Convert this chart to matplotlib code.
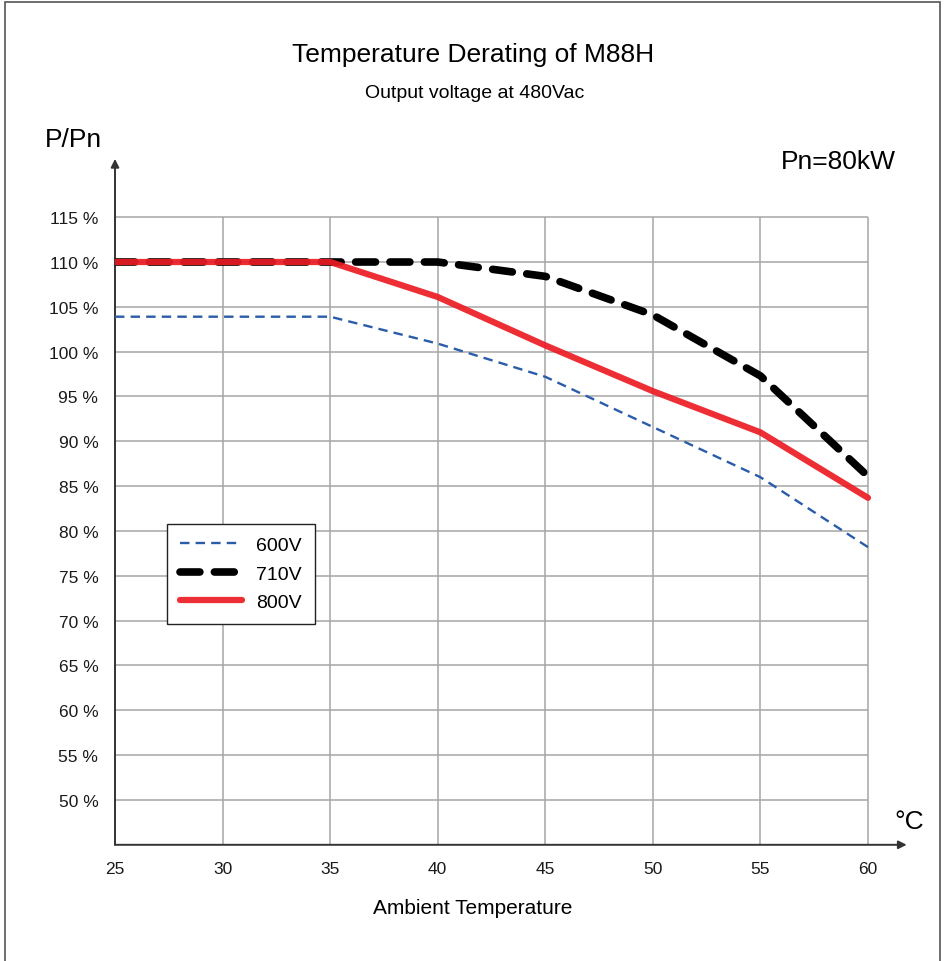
import matplotlib
matplotlib.use("Agg")
import matplotlib.pyplot as plt
from matplotlib.patches import Rectangle

plt.rcParams['font.family'] = ['Liberation Sans', 'DejaVu Sans']

temps = [25, 30, 35, 40, 45, 50, 55, 60]
p600 = [103.9, 103.9, 103.9, 100.9, 97.2, 91.6, 86.0, 78.2]
p710 = [110.0, 110.0, 110.0, 110.0, 108.4, 104.1, 97.3, 86.1]
p800 = [110.0, 110.0, 110.0, 106.1, 100.7, 95.6, 91.0, 83.7]
series_labels = ['600V', '710V', '800V']
xticks = [25, 30, 35, 40, 45, 50, 55, 60]
yticks = [50, 55, 60, 65, 70, 75, 80, 85, 90, 95, 100, 105, 110, 115]
ytick_labels = [f"{v} %" for v in yticks]

W, H = 945, 962
fig = plt.figure(figsize=(W / 100, H / 100), dpi=100)

ax = fig.add_axes([115 / W, 1 - 845.8 / H, (906.7 - 115) / W, (845.8 - 159.9) / H])
ax.set_xlim(25, 61.8)
ax.set_ylim(45, 121.5)
for s in ax.spines.values():
    s.set_visible(False)

grid_c = '#a6a6a6'
ax.hlines(yticks, 25, 60, color=grid_c, lw=1.1, zorder=1)
ax.vlines(xticks[1:], 45, 115, color=grid_c, lw=1.1, zorder=1)

# axes with arrows
ax.annotate('', xy=(25, 121.5), xytext=(25, 45),
            arrowprops=dict(arrowstyle='-|>', color='#333333', lw=1.4,
                            mutation_scale=12, shrinkA=0, shrinkB=0), annotation_clip=False)
ax.annotate('', xy=(61.8, 45), xytext=(25, 45),
            arrowprops=dict(arrowstyle='-|>', color='#333333', lw=1.4,
                            mutation_scale=12, shrinkA=0, shrinkB=0), annotation_clip=False)

l1, = ax.plot(temps, p600, color='#2a5caa', lw=1.7, ls=(0, (4, 2.6)), label=series_labels[0], zorder=3)
l2, = ax.plot(temps, p710, color='black', lw=5.5, ls=(0, (2.6, 1.9)),
              dash_capstyle='round', label=series_labels[1], zorder=4)
l3, = ax.plot(temps, p800, color='#ec1c24', lw=4.5, alpha=0.92,
              solid_capstyle='round', label=series_labels[2], zorder=5)

ax.set_xticks(xticks)
ax.set_xticklabels([str(t) for t in xticks], fontsize=12.5)
ax.set_yticks(yticks)
ax.set_yticklabels(ytick_labels, fontsize=12.5)
ax.tick_params(axis='both', length=0, colors='#1a1a1a')
ax.tick_params(axis='y', pad=12)
ax.tick_params(axis='x', pad=12)

leg = ax.legend(handles=[l1, l2, l3], loc='upper left',
                bbox_to_anchor=((167 - 115) / 791.7, (845.8 - 525) / 685.9),
                fontsize=14, frameon=True, fancybox=False, edgecolor='#222222',
                framealpha=1, handlelength=3.2, handletextpad=0.75,
                borderpad=0.65, labelspacing=0.55, borderaxespad=0)
leg.get_frame().set_linewidth(1.0)

fig.text(473 / W, 1 - 55 / H, 'Temperature Derating of M88H', ha='center', va='center', fontsize=19)
fig.text(475 / W, 1 - 93 / H, 'Output voltage at 480Vac', ha='center', va='center', fontsize=14)
fig.text(73 / W, 1 - 140 / H, 'P/Pn', ha='center', va='center', fontsize=19)
fig.text(838 / W, 1 - 162 / H, 'Pn=80kW', ha='center', va='center', fontsize=19)
fig.text(909 / W, 1 - 822 / H, '°C', ha='center', va='center', fontsize=19)
fig.text(473 / W, 1 - 909 / H, 'Ambient Temperature', ha='center', va='center', fontsize=15)

fig.patches.append(Rectangle((5 / W, -0.02), (940 - 5) / W, 1 - 3 / H + 0.02,
                             transform=fig.transFigure, fill=False,
                             edgecolor='#555555', lw=1.2))

fig.savefig('out.png', dpi=100)
